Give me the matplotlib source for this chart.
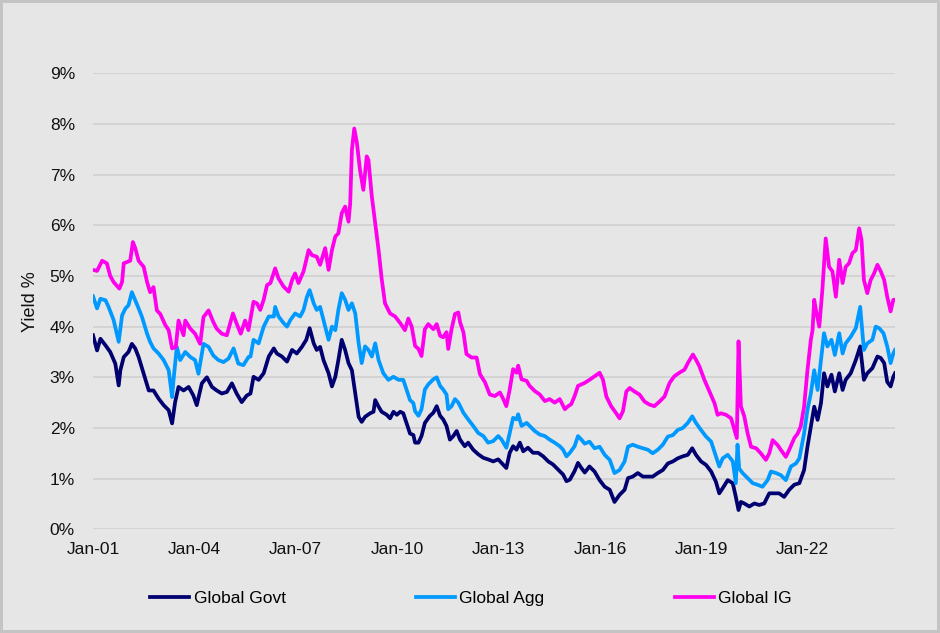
import matplotlib
matplotlib.use("Agg")
import matplotlib.pyplot as plt

plt.rcParams['font.family'] = ['Liberation Sans', 'DejaVu Sans']

series_names = ["Global Govt", "Global Agg", "Global IG"]
series_colors = ["#000070", "#0099ff", "#ff00ee"]

# (decimal year, yield %)
govt = [
    (2001.00, 3.83), (2001.12, 3.53), (2001.22, 3.76), (2001.37, 3.63), (2001.51, 3.50), (2001.66, 3.27),
    (2001.76, 2.84), (2001.81, 3.14), (2001.91, 3.40), (2002.05, 3.50), (2002.15, 3.66), (2002.25, 3.57),
    (2002.35, 3.40), (2002.50, 3.07), (2002.65, 2.74), (2002.79, 2.74), (2002.94, 2.58), (2003.09, 2.45),
    (2003.24, 2.35), (2003.34, 2.09), (2003.43, 2.51), (2003.53, 2.81), (2003.68, 2.74), (2003.83, 2.81),
    (2003.97, 2.64), (2004.07, 2.45), (2004.22, 2.88), (2004.37, 3.00), (2004.52, 2.81), (2004.66, 2.74),
    (2004.81, 2.68), (2004.96, 2.71), (2005.11, 2.88), (2005.25, 2.68), (2005.40, 2.51), (2005.55, 2.64),
    (2005.66, 2.68), (2005.75, 3.01), (2005.90, 2.95), (2006.05, 3.08), (2006.20, 3.41), (2006.35, 3.57),
    (2006.44, 3.47), (2006.59, 3.41), (2006.74, 3.31), (2006.89, 3.54), (2007.03, 3.47), (2007.18, 3.60),
    (2007.31, 3.74), (2007.41, 3.97), (2007.53, 3.67), (2007.62, 3.54), (2007.72, 3.60), (2007.82, 3.34),
    (2007.97, 3.08), (2008.07, 2.82), (2008.17, 3.01), (2008.26, 3.34), (2008.36, 3.74), (2008.46, 3.54),
    (2008.56, 3.28), (2008.66, 3.14), (2008.76, 2.68), (2008.86, 2.22), (2008.95, 2.12), (2009.05, 2.22),
    (2009.20, 2.29), (2009.30, 2.32), (2009.35, 2.55), (2009.45, 2.42), (2009.54, 2.32), (2009.69, 2.26),
    (2009.79, 2.19), (2009.89, 2.32), (2009.99, 2.26), (2010.09, 2.32), (2010.18, 2.29), (2010.28, 2.09),
    (2010.38, 1.89), (2010.48, 1.86), (2010.53, 1.71), (2010.63, 1.71), (2010.72, 1.84), (2010.82, 2.10),
    (2010.97, 2.24), (2011.07, 2.30), (2011.17, 2.43), (2011.27, 2.24), (2011.36, 2.17), (2011.46, 2.04),
    (2011.56, 1.77), (2011.66, 1.84), (2011.76, 1.94), (2011.86, 1.77), (2012.00, 1.64), (2012.10, 1.71),
    (2012.25, 1.57), (2012.40, 1.48), (2012.55, 1.41), (2012.69, 1.38), (2012.84, 1.34), (2012.99, 1.38),
    (2013.09, 1.31), (2013.23, 1.21), (2013.33, 1.51), (2013.43, 1.64), (2013.53, 1.57), (2013.63, 1.71),
    (2013.73, 1.54), (2013.87, 1.61), (2014.02, 1.51), (2014.17, 1.51), (2014.32, 1.44), (2014.47, 1.34),
    (2014.61, 1.28), (2014.76, 1.18), (2014.91, 1.08), (2015.01, 0.95), (2015.11, 0.98), (2015.25, 1.15),
    (2015.35, 1.31), (2015.45, 1.21), (2015.55, 1.12), (2015.69, 1.24), (2015.84, 1.14), (2015.99, 0.97),
    (2016.14, 0.84), (2016.29, 0.78), (2016.43, 0.54), (2016.58, 0.68), (2016.73, 0.78), (2016.83, 1.01),
    (2016.97, 1.04), (2017.12, 1.11), (2017.27, 1.04), (2017.42, 1.04), (2017.56, 1.04), (2017.71, 1.11),
    (2017.86, 1.17), (2018.01, 1.30), (2018.16, 1.34), (2018.30, 1.40), (2018.45, 1.44), (2018.60, 1.47),
    (2018.73, 1.60), (2018.84, 1.47), (2018.99, 1.34), (2019.14, 1.27), (2019.29, 1.14), (2019.43, 0.94),
    (2019.53, 0.71), (2019.63, 0.81), (2019.78, 0.97), (2019.93, 0.91), (2020.02, 0.64), (2020.10, 0.38),
    (2020.17, 0.54), (2020.27, 0.51), (2020.42, 0.45), (2020.57, 0.51), (2020.71, 0.48), (2020.86, 0.51),
    (2021.01, 0.71), (2021.16, 0.71), (2021.30, 0.71), (2021.45, 0.64), (2021.60, 0.78), (2021.75, 0.88),
    (2021.90, 0.91), (2022.04, 1.17), (2022.14, 1.63), (2022.24, 2.03), (2022.34, 2.42), (2022.44, 2.16),
    (2022.54, 2.49), (2022.63, 3.08), (2022.73, 2.82), (2022.85, 3.05), (2022.95, 2.72), (2023.08, 3.08),
    (2023.18, 2.75), (2023.27, 2.95), (2023.42, 3.08), (2023.57, 3.34), (2023.70, 3.61), (2023.81, 2.95),
    (2023.91, 3.08), (2024.06, 3.18), (2024.21, 3.41), (2024.31, 3.38), (2024.41, 3.28), (2024.50, 2.91),
    (2024.60, 2.82), (2024.68, 3.01), (2024.73, 3.08),
]

agg = [
    (2001.00, 4.60), (2001.12, 4.36), (2001.22, 4.55), (2001.37, 4.52), (2001.46, 4.39), (2001.61, 4.13),
    (2001.76, 3.70), (2001.86, 4.22), (2001.96, 4.36), (2002.05, 4.42), (2002.15, 4.68), (2002.25, 4.52),
    (2002.35, 4.36), (2002.45, 4.19), (2002.60, 3.86), (2002.69, 3.70), (2002.79, 3.57), (2002.94, 3.47),
    (2003.09, 3.34), (2003.24, 3.14), (2003.34, 2.61), (2003.38, 2.93), (2003.48, 3.60), (2003.58, 3.34),
    (2003.73, 3.50), (2003.88, 3.40), (2004.02, 3.34), (2004.12, 3.07), (2004.27, 3.66), (2004.42, 3.60),
    (2004.56, 3.43), (2004.71, 3.34), (2004.86, 3.30), (2005.01, 3.37), (2005.16, 3.57), (2005.30, 3.27),
    (2005.45, 3.24), (2005.60, 3.40), (2005.66, 3.41), (2005.75, 3.74), (2005.90, 3.67), (2006.05, 4.00),
    (2006.20, 4.20), (2006.35, 4.20), (2006.39, 4.39), (2006.49, 4.20), (2006.64, 4.07), (2006.74, 4.00),
    (2006.84, 4.13), (2006.98, 4.26), (2007.13, 4.20), (2007.23, 4.33), (2007.33, 4.59), (2007.41, 4.72),
    (2007.53, 4.46), (2007.62, 4.33), (2007.72, 4.39), (2007.82, 4.13), (2007.97, 3.74), (2008.07, 4.00),
    (2008.17, 3.93), (2008.26, 4.33), (2008.36, 4.66), (2008.46, 4.53), (2008.56, 4.33), (2008.66, 4.46),
    (2008.76, 4.26), (2008.86, 3.67), (2008.95, 3.28), (2009.05, 3.61), (2009.15, 3.54), (2009.25, 3.41),
    (2009.35, 3.67), (2009.45, 3.34), (2009.59, 3.08), (2009.74, 2.95), (2009.89, 3.01), (2010.04, 2.95),
    (2010.18, 2.95), (2010.28, 2.75), (2010.38, 2.55), (2010.48, 2.49), (2010.53, 2.33), (2010.63, 2.24),
    (2010.72, 2.37), (2010.82, 2.76), (2010.92, 2.86), (2011.07, 2.96), (2011.17, 3.00), (2011.27, 2.83),
    (2011.36, 2.76), (2011.46, 2.66), (2011.51, 2.37), (2011.61, 2.43), (2011.71, 2.57), (2011.81, 2.50),
    (2011.96, 2.30), (2012.10, 2.17), (2012.25, 2.04), (2012.40, 1.90), (2012.55, 1.84), (2012.69, 1.71),
    (2012.84, 1.74), (2012.99, 1.84), (2013.09, 1.77), (2013.23, 1.61), (2013.33, 1.90), (2013.43, 2.20),
    (2013.53, 2.17), (2013.58, 2.27), (2013.68, 2.04), (2013.83, 2.10), (2013.92, 2.04), (2014.07, 1.94),
    (2014.22, 1.87), (2014.37, 1.84), (2014.51, 1.77), (2014.66, 1.71), (2014.81, 1.64), (2014.91, 1.57),
    (2015.01, 1.44), (2015.11, 1.51), (2015.25, 1.64), (2015.35, 1.84), (2015.45, 1.77), (2015.55, 1.69),
    (2015.69, 1.73), (2015.84, 1.60), (2015.99, 1.63), (2016.14, 1.47), (2016.29, 1.37), (2016.43, 1.11),
    (2016.58, 1.17), (2016.73, 1.34), (2016.83, 1.63), (2016.97, 1.67), (2017.12, 1.63), (2017.27, 1.60),
    (2017.42, 1.57), (2017.56, 1.50), (2017.71, 1.57), (2017.86, 1.67), (2018.01, 1.83), (2018.16, 1.86),
    (2018.30, 1.96), (2018.45, 2.00), (2018.60, 2.10), (2018.73, 2.23), (2018.84, 2.10), (2018.99, 1.96),
    (2019.14, 1.83), (2019.29, 1.73), (2019.43, 1.44), (2019.53, 1.24), (2019.63, 1.40), (2019.78, 1.47),
    (2019.93, 1.34), (2020.02, 0.91), (2020.07, 1.67), (2020.12, 1.20), (2020.22, 1.11), (2020.37, 1.01),
    (2020.52, 0.91), (2020.66, 0.88), (2020.81, 0.84), (2020.96, 0.97), (2021.06, 1.14), (2021.21, 1.11),
    (2021.35, 1.07), (2021.50, 0.97), (2021.65, 1.24), (2021.80, 1.30), (2021.90, 1.40), (2022.04, 1.89),
    (2022.14, 2.36), (2022.24, 2.68), (2022.34, 3.14), (2022.44, 2.75), (2022.54, 3.34), (2022.63, 3.87),
    (2022.73, 3.61), (2022.85, 3.74), (2022.95, 3.44), (2023.08, 3.87), (2023.18, 3.47), (2023.27, 3.67),
    (2023.42, 3.80), (2023.57, 3.97), (2023.70, 4.39), (2023.81, 3.54), (2023.91, 3.67), (2024.06, 3.74),
    (2024.16, 4.00), (2024.26, 3.97), (2024.39, 3.87), (2024.50, 3.61), (2024.60, 3.28), (2024.68, 3.47),
    (2024.73, 3.54),
]

ig = [
    (2001.00, 5.12), (2001.12, 5.10), (2001.27, 5.30), (2001.41, 5.25), (2001.51, 5.00), (2001.61, 4.88),
    (2001.78, 4.75), (2001.86, 4.88), (2001.91, 5.25), (2002.10, 5.30), (2002.18, 5.67), (2002.25, 5.55),
    (2002.35, 5.30), (2002.50, 5.18), (2002.60, 4.88), (2002.69, 4.68), (2002.79, 4.78), (2002.89, 4.32),
    (2002.99, 4.25), (2003.14, 4.03), (2003.24, 3.93), (2003.34, 3.57), (2003.45, 3.60), (2003.53, 4.12),
    (2003.68, 3.83), (2003.73, 4.12), (2003.88, 3.96), (2004.02, 3.86), (2004.17, 3.66), (2004.27, 4.19),
    (2004.42, 4.32), (2004.56, 4.09), (2004.66, 3.96), (2004.81, 3.86), (2004.96, 3.83), (2005.14, 4.26),
    (2005.25, 4.06), (2005.37, 3.86), (2005.50, 4.12), (2005.60, 3.93), (2005.75, 4.49), (2005.85, 4.46),
    (2005.95, 4.33), (2006.05, 4.53), (2006.15, 4.82), (2006.25, 4.86), (2006.39, 5.15), (2006.49, 4.95),
    (2006.64, 4.79), (2006.79, 4.69), (2006.89, 4.92), (2006.98, 5.05), (2007.08, 4.86), (2007.23, 5.09),
    (2007.38, 5.51), (2007.48, 5.41), (2007.62, 5.38), (2007.72, 5.22), (2007.87, 5.55), (2007.97, 5.12),
    (2008.07, 5.51), (2008.17, 5.78), (2008.26, 5.84), (2008.36, 6.24), (2008.46, 6.37), (2008.56, 6.07),
    (2008.61, 6.43), (2008.66, 7.49), (2008.73, 7.91), (2008.81, 7.62), (2008.90, 7.09), (2009.00, 6.70),
    (2009.10, 7.36), (2009.15, 7.29), (2009.25, 6.57), (2009.35, 6.04), (2009.45, 5.51), (2009.54, 4.95),
    (2009.64, 4.46), (2009.79, 4.26), (2009.94, 4.20), (2010.09, 4.07), (2010.23, 3.93), (2010.33, 4.16),
    (2010.43, 4.00), (2010.53, 3.62), (2010.63, 3.56), (2010.72, 3.42), (2010.82, 3.95), (2010.92, 4.05),
    (2011.07, 3.95), (2011.17, 4.05), (2011.27, 3.82), (2011.36, 3.79), (2011.46, 3.89), (2011.51, 3.56),
    (2011.61, 3.95), (2011.71, 4.25), (2011.81, 4.28), (2011.86, 4.09), (2011.96, 3.89), (2012.05, 3.46),
    (2012.20, 3.39), (2012.35, 3.39), (2012.45, 3.06), (2012.60, 2.90), (2012.74, 2.66), (2012.89, 2.63),
    (2013.04, 2.70), (2013.14, 2.57), (2013.23, 2.43), (2013.33, 2.76), (2013.43, 3.16), (2013.53, 3.09),
    (2013.58, 3.23), (2013.68, 2.96), (2013.83, 2.93), (2013.92, 2.83), (2014.07, 2.73), (2014.22, 2.66),
    (2014.37, 2.53), (2014.51, 2.57), (2014.66, 2.50), (2014.81, 2.57), (2014.96, 2.37), (2015.06, 2.43),
    (2015.15, 2.47), (2015.25, 2.63), (2015.35, 2.83), (2015.45, 2.86), (2015.55, 2.89), (2015.69, 2.95),
    (2015.84, 3.02), (2015.99, 3.09), (2016.09, 2.95), (2016.19, 2.62), (2016.33, 2.43), (2016.48, 2.29),
    (2016.58, 2.19), (2016.68, 2.33), (2016.78, 2.72), (2016.88, 2.79), (2017.02, 2.72), (2017.17, 2.66),
    (2017.32, 2.52), (2017.47, 2.46), (2017.61, 2.43), (2017.76, 2.52), (2017.91, 2.62), (2018.06, 2.89),
    (2018.20, 3.02), (2018.35, 3.09), (2018.50, 3.15), (2018.60, 3.28), (2018.75, 3.45), (2018.84, 3.35),
    (2018.94, 3.22), (2019.09, 2.95), (2019.24, 2.72), (2019.39, 2.49), (2019.48, 2.26), (2019.58, 2.29),
    (2019.73, 2.26), (2019.88, 2.19), (2019.98, 1.96), (2020.05, 1.80), (2020.10, 3.71), (2020.17, 2.43),
    (2020.27, 2.23), (2020.37, 1.89), (2020.47, 1.63), (2020.62, 1.60), (2020.76, 1.50), (2020.91, 1.37),
    (2021.01, 1.50), (2021.11, 1.76), (2021.26, 1.66), (2021.35, 1.57), (2021.50, 1.43), (2021.60, 1.57),
    (2021.75, 1.80), (2021.85, 1.89), (2021.94, 2.03), (2022.04, 2.42), (2022.14, 3.14), (2022.24, 3.74),
    (2022.29, 3.93), (2022.34, 4.53), (2022.39, 4.33), (2022.49, 4.00), (2022.58, 4.72), (2022.68, 5.74),
    (2022.78, 5.18), (2022.88, 5.09), (2022.98, 4.59), (2023.08, 5.32), (2023.18, 4.86), (2023.27, 5.18),
    (2023.37, 5.25), (2023.47, 5.45), (2023.57, 5.51), (2023.67, 5.94), (2023.74, 5.71), (2023.81, 4.92),
    (2023.91, 4.66), (2024.01, 4.92), (2024.11, 5.05), (2024.21, 5.22), (2024.31, 5.09), (2024.41, 4.92),
    (2024.50, 4.59), (2024.60, 4.30), (2024.68, 4.53), (2024.73, 4.53),
]

x_tick_years = [2001, 2004, 2007, 2010, 2013, 2016, 2019, 2022]
x_tick_labels = ["Jan-01", "Jan-04", "Jan-07", "Jan-10", "Jan-13", "Jan-16", "Jan-19", "Jan-22"]
y_ticks = list(range(0, 10))
y_tick_labels = [f"{v}%" for v in y_ticks]

BG = "#e6e6e6"
FS = 12.5

fig = plt.figure(figsize=(9.4, 6.33), dpi=100, facecolor=BG)
ax = fig.add_axes([93 / 940, 1 - 529.3 / 633, (895 - 93) / 940, (529.3 - 73.3) / 633])
ax.set_facecolor(BG)

lines = []
for data, name, color in zip([govt, agg, ig], series_names, series_colors):
    t, v = zip(*data)
    ln, = ax.plot(t, v, color=color, lw=2.7, label=name, solid_joinstyle="round")
    lines.append(ln)

ax.set_xlim(2001.0, 2024.73)
ax.set_ylim(0, 9)
ax.set_yticks(y_ticks)
ax.set_yticklabels(y_tick_labels)
ax.set_xticks(x_tick_years)
ax.set_xticklabels(x_tick_labels)
ax.grid(axis="y", color="#d2d2d2", lw=1.3)
ax.set_axisbelow(True)
for s in ax.spines.values():
    s.set_visible(False)
ax.tick_params(axis="y", length=0, labelsize=FS, pad=13, colors="#111111")
ax.tick_params(axis="x", length=0, labelsize=FS, pad=9, colors="#111111")
ax.set_ylabel("Yield %", fontsize=FS + 0.5, color="#111111", labelpad=8)

fig.legend(handles=lines, loc="center", bbox_to_anchor=(471 / 940, 1 - 598 / 633), ncol=3,
           frameon=False, fontsize=FS, handlelength=2.25, handletextpad=0.25, columnspacing=7.5)

fig.patch.set_edgecolor("#c4c4c4")
fig.patch.set_linewidth(3)
fig.savefig("out.png", dpi=100, facecolor=fig.get_facecolor(), edgecolor=fig.get_edgecolor())
